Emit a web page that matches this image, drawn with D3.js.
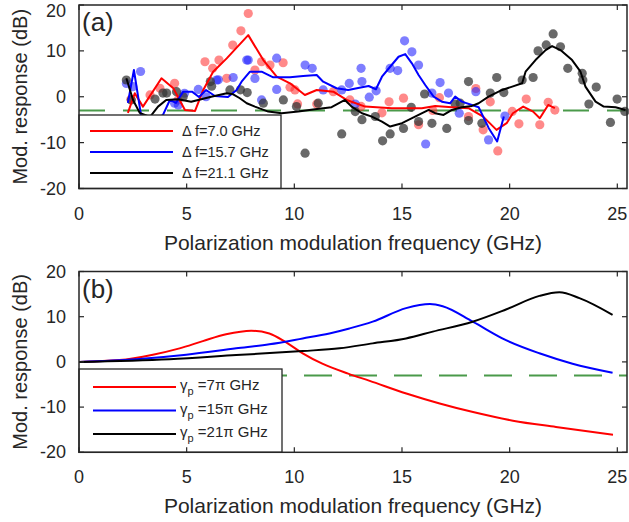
<!DOCTYPE html>
<html>
<head>
<meta charset="utf-8">
<script src="https://cdn.jsdelivr.net/npm/d3@7"></script>
<style>
  body { margin: 0; background: #fff; }
  text { font-family: "Liberation Sans", Arial, sans-serif; fill: #262626; }
</style>
</head>
<body>
<script>
// ---- data: [frequency GHz, response dB] ----
const redDots = [[7.86,18.15],[7.52,14.37],[7.14,11.26],[5.85,7.63],[6.5,8.0],[6.21,6.2],[8.48,7.63],[8.87,6.91],
  [9.48,7.41],[8.17,5.83],[9.8,2.07],[10.15,-1.57],[11.04,-1.57],[3.76,1.85],[2.41,-0.54],[4.44,2.93],[4.6,-0.7],
  [3.3,0.39],[10.03,1.48],[11.81,1.11],[12.58,-0.7],[6.86,4.02],[14.4,-1.1],[15.07,-0.3],[14.07,-3.5],[13.1,-2.1],
  [15.77,-6.1],[16.43,-3.0],[16.74,-0.2],[18.09,-4.3],[18.43,1.8],[19.1,-1.1],[20.77,-0.5],[20.43,-5.9],[20.12,-3.2],
  [19.45,-11.8],[21.4,-6.1],[21.79,-1.2],[22.1,-2.9],[18.77,-7.2]];
const blueDots = [[2.86,5.5],[2.2,2.9],[7.86,8.0],[9.18,8.4],[10.5,6.9],[10.83,6.2],[8.17,4.0],[7.16,4.2],[6.47,3.7],
  [9.18,1.6],[8.48,-0.7],[5.54,1.6],[4.61,-1.8],[12.55,2.9],[2.5,2.2],[4.44,-1.4],[5.9,0],[4.9,0.76],[7.79,8.0],
  [6.39,3.65],[11.34,1.48],[12.2,1.48],[15.12,12.2],[15.46,9.8],[13.1,6.2],[15.77,6.9],[14.8,5.7],[14.45,6.2],
  [13.14,3.3],[13.8,1.3],[13.48,-0.1],[16.77,3.1],[16.39,0.8],[17.16,0.8],[16.1,-10.3],[17.66,-3.6],[18.43,1.1],
  [19.02,-9.4],[12.83,-1.6],[19.78,-4.2]];
const grayDots = [[2.2,3.65],[3.53,-0.5],[4.07,0.8],[4.53,1.1],[4.84,0],[6.16,2.3],[7.5,1.5],[7.81,0.9],[8.56,-1.4],
  [9.49,-0.7],[10.5,-12.3],[12.2,-8.1],[2.43,-0.7],[3.9,0.8],[6.1,3.3],[7.01,1.48],[10.1,-2.15],[11.11,-1.4],
  [16.05,0.6],[15.77,-5.4],[15.07,-6.9],[14.45,-8.1],[14.1,-9.6],[13.76,-4.3],[13.14,-5.0],[15.43,-2.3],[16.39,-5.8],
  [17.08,-6.9],[17.7,-1.4],[18.09,3.3],[18.09,-5.2],[18.71,-5.8],[19.1,0.8],[12.83,-3.24],[17.47,-1.6],
  [22.02,13.7],[21.7,11.3],[21.32,10.0],[22.36,10.9],[22.7,6.2],[19.4,4.2],[19.73,0.9],[20.58,3.65],[21.09,4.2],
  [23.37,5.1],[23.4,3.65],[24.02,2.1],[23.68,-1.6],[24.68,-5.6],[24.99,-0.5],[25.35,-3.2]];

const redFit = [[2.27,-3.52],[2.59,0.76],[2.97,-2.15],[3.83,4.02],[4.38,1.85],[4.92,-2.87],[5.39,-3.09],[5.77,1.48],
  [6.23,5.46],[6.86,8.37],[7.86,13.43],[8.56,8.0],[9.18,4.37],[9.8,2.93],[10.49,0.39],[11.04,1.48],[11.81,1.11],
  [12.43,-0.7],[13.29,-2.15],[14.53,-2.5],[15.92,-2.5],[16.54,-2.0],[17.32,-2.28],[18.09,-2.5],[18.77,-4.33],
  [19.39,-7.22],[19.86,-5.76],[20.15,-3.59],[20.63,-2.15],[21.09,-3.24],[21.4,-4.67],[21.79,-1.78],[22.1,-2.5]];
const blueFit = [[2.27,-1.35],[2.55,5.83],[2.88,-3.96],[3.3,-6.13],[3.9,-3.96],[4.22,-0.7],[4.5,-1.35],[4.84,1.11],
  [5.25,1.11],[5.57,-0.04],[5.9,1.48],[6.31,0.17],[6.92,-0.04],[7.32,1.48],[7.55,3.28],[7.94,5.46],[8.48,5.46],
  [9.02,4.24],[9.8,4.24],[10.41,4.52],[11.04,4.74],[11.34,3.28],[11.96,1.85],[12.5,1.48],[13.14,2.07],[13.45,2.35],
  [13.79,1.63],[14.07,4.37],[14.45,6.54],[14.84,8.72],[15.15,9.3],[15.46,7.28],[15.77,4.74],[16.08,2.57],
  [16.47,0.02],[16.85,-1.07],[17.24,-1.41],[17.47,0.02],[17.78,-1.07],[18.56,-2.28],[19.03,-6.85],[19.42,-9.76],
  [19.73,-4.33]];
const blackFit = [[2.2,4.02],[2.51,-0.7],[2.82,-3.52],[3.3,-4.4],[3.67,-2.15],[4.05,-0.7],[4.6,-0.54],[5.21,-1.07],
  [6.14,0.02],[6.86,0.76],[7.16,0.54],[7.47,-0.33],[7.79,-1.41],[8.17,-2.15],[8.79,-3.24],[9.41,-3.59],
  [10.18,-3.24],[10.96,-2.72],[11.73,-2.28],[12.35,-0.7],[12.66,-2.15],[13.14,-3.59],[13.6,-4.33],[14.07,-5.41],
  [14.45,-6.5],[15.0,-5.76],[15.77,-3.96],[16.24,-2.87],[16.54,-3.59],[16.93,-3.96],[17.32,-2.87],[17.78,-2.28],
  [18.25,-2.0],[18.56,-1.41],[19.02,0.02],[19.65,1.48],[20.12,2.2],[20.58,2.93],[20.74,5.46],[21.2,8.0],
  [21.67,10.17],[21.97,11.04],[22.36,10.17],[22.9,8.0],[23.29,5.46],[23.52,2.2],[23.99,-1.07],[24.37,-2.15],
  [24.92,-2.28],[25.38,-2.87]];

const modelRed = [[0,0],[1.88,0.4],[3.43,1.6],[4.67,3.0],[5.75,4.6],[6.83,6.1],[8.0,6.9],[8.84,6.3],[9.62,4.3],
  [10.39,1.9],[11.3,-0.4],[12.5,-2.6],[13.5,-4.2],[15.2,-7.0],[16.75,-9.2],[18.3,-11.1],[20.15,-13.0],
  [22.15,-14.4],[24.8,-16.1]];
const modelBlue = [[0,0],[2.65,0.6],[4.98,1.6],[7.3,3.0],[8.84,3.9],[10.39,5.2],[11.63,6.3],[12.56,7.4],[13.64,8.9],
  [15.19,11.9],[16.3,12.8],[16.89,12.3],[18.28,8.9],[19.83,4.8],[21.38,1.9],[22.92,-0.4],[24.78,-2.4]];
const modelBlack = [[0,0],[4.2,0.6],[7.3,1.5],[10.39,2.4],[12.1,3.0],[13.64,4.1],[15.19,5.2],[16.43,6.7],
  [18.28,8.9],[19.83,11.6],[21.38,14.6],[22.31,15.4],[23.24,14.1],[24.78,10.4]];

const threshold = -3;
const xTicks = [0, 5, 10, 15, 20, 25];
const yTicks = [-20, -10, 0, 10, 20];
const legendA = ["7.0", "15.7", "21.1"];
const legendB = ["7", "15", "21"];
const colors = ["#ff0000", "#0000ff", "#000000"];
const dotColors = ["rgba(255,40,40,0.55)", "rgba(40,40,255,0.6)", "rgba(55,55,55,0.75)"];

const W = 629, H = 522;
const svg = d3.select("body").append("svg").attr("width", W).attr("height", H);

function panel(top, bottom, tag) {
  const x = d3.scaleLinear().domain([0, 25.45]).range([79, 627]);
  const y = d3.scaleLinear().domain([-20, 20]).range([bottom, top]);
  const g = svg.append("g");
  const clipId = "clip" + tag;
  svg.append("clipPath").attr("id", clipId).append("rect")
    .attr("x", 79).attr("y", top).attr("width", 548).attr("height", bottom - top);
  const plot = g.append("g").attr("clip-path", `url(#${clipId})`);
  return { x, y, g, plot, top, bottom };
}

function frame(p, tag) {
  const { x, y, g, top, bottom } = p;
  // ticks inside, mirrored
  xTicks.forEach(t => {
    g.append("line").attr("x1", x(t)).attr("x2", x(t)).attr("y1", bottom).attr("y2", bottom - 5).attr("stroke", "#262626").attr("stroke-width", 1.2);
    g.append("line").attr("x1", x(t)).attr("x2", x(t)).attr("y1", top).attr("y2", top + 5).attr("stroke", "#262626").attr("stroke-width", 1.2);
    g.append("text").attr("x", x(t)).attr("y", bottom + 31).attr("text-anchor", "middle").attr("font-size", 18).text(t);
  });
  yTicks.forEach(t => {
    g.append("line").attr("x1", 79).attr("x2", 84).attr("y1", y(t)).attr("y2", y(t)).attr("stroke", "#262626").attr("stroke-width", 1.2);
    g.append("line").attr("x1", 627).attr("x2", 622).attr("y1", y(t)).attr("y2", y(t)).attr("stroke", "#262626").attr("stroke-width", 1.2);
    g.append("text").attr("x", 66).attr("y", Math.max(y(t) + 6, 17)).attr("text-anchor", "end").attr("font-size", 18).text(t);
  });
  g.append("rect").attr("x", 79).attr("y", top).attr("width", 548).attr("height", bottom - top)
    .attr("fill", "none").attr("stroke", "#262626").attr("stroke-width", 1.5);
  g.append("text").attr("transform", `translate(27,${(top + bottom) / 2}) rotate(-90)`)
    .attr("text-anchor", "middle").attr("font-size", 20).text("Mod. response (dB)");
  g.append("text").attr("x", 353).attr("y", bottom + 61).attr("text-anchor", "middle").attr("font-size", 21)
    .text("Polarization modulation frequency (GHz)");
  g.append("text").attr("x", 82).attr("y", top + 26).attr("font-size", 26).text(tag);
}

const lineGen = (p, curve) => d3.line().x(d => p.x(d[0])).y(d => p.y(d[1])).curve(curve);

// ---- panel (a) ----
const a = panel(5, 188.5, "(a)");
a.plot.append("line").attr("x1", a.x(0)).attr("x2", a.x(25.45)).attr("y1", a.y(threshold)).attr("y2", a.y(threshold))
  .attr("stroke", "#4a9a4a").attr("stroke-width", 2).attr("stroke-dasharray", "26,18");
[redDots, blueDots, grayDots].forEach((set, i) => {
  a.plot.selectAll(null).data(set).enter().append("circle")
    .attr("cx", d => a.x(d[0])).attr("cy", d => a.y(d[1])).attr("r", 4.6)
    .attr("fill", dotColors[i]);
});
[redFit, blueFit, blackFit].forEach((set, i) => {
  a.plot.append("path").attr("d", lineGen(a, d3.curveLinear)(set))
    .attr("fill", "none").attr("stroke", colors[i]).attr("stroke-width", 2).attr("stroke-linejoin", "round");
});
const legA = a.g.append("g");
legA.append("rect").attr("x", 79).attr("y", 115).attr("width", 202).attr("height", 73.5)
  .attr("fill", "#fff").attr("stroke", "#262626").attr("stroke-width", 1.3);
legendA.forEach((v, i) => {
  const ly = 131 + i * 21;
  legA.append("line").attr("x1", 90).attr("x2", 173).attr("y1", ly).attr("y2", ly).attr("stroke", colors[i]).attr("stroke-width", 2);
  legA.append("text").attr("x", 182).attr("y", ly + 5).attr("font-size", 14.5).text(`\u0394 f=${v} GHz`);
});
frame(a, "(a)");

// ---- panel (b) ----
const b = panel(271.5, 452.3, "(b)");
b.plot.append("line").attr("x1", b.x(0)).attr("x2", b.x(25.45)).attr("y1", b.y(threshold)).attr("y2", b.y(threshold))
  .attr("stroke", "#4a9a4a").attr("stroke-width", 2).attr("stroke-dasharray", "28,17");
[modelRed, modelBlue, modelBlack].forEach((set, i) => {
  b.plot.append("path").attr("d", lineGen(b, d3.curveMonotoneX)(set))
    .attr("fill", "none").attr("stroke", colors[i]).attr("stroke-width", 2);
});
const legB = b.g.append("g");
legB.append("rect").attr("x", 79).attr("y", 369).attr("width", 203).attr("height", 83.3)
  .attr("fill", "#fff").attr("stroke", "#262626").attr("stroke-width", 1.3);
legendB.forEach((v, i) => {
  const ly = 387 + i * 23.5;
  legB.append("line").attr("x1", 93).attr("x2", 176).attr("y1", ly).attr("y2", ly).attr("stroke", colors[i]).attr("stroke-width", 2);
  const t = legB.append("text").attr("x", 180).attr("y", ly + 3).attr("font-size", 15);
  t.append("tspan").text("\u03b3");
  t.append("tspan").attr("font-size", 11).attr("dy", 5).text("p");
  t.append("tspan").attr("dy", -5).text(` =${v}\u03c0 GHz`);
});
frame(b, "(b)");
</script>
</body>
</html>
